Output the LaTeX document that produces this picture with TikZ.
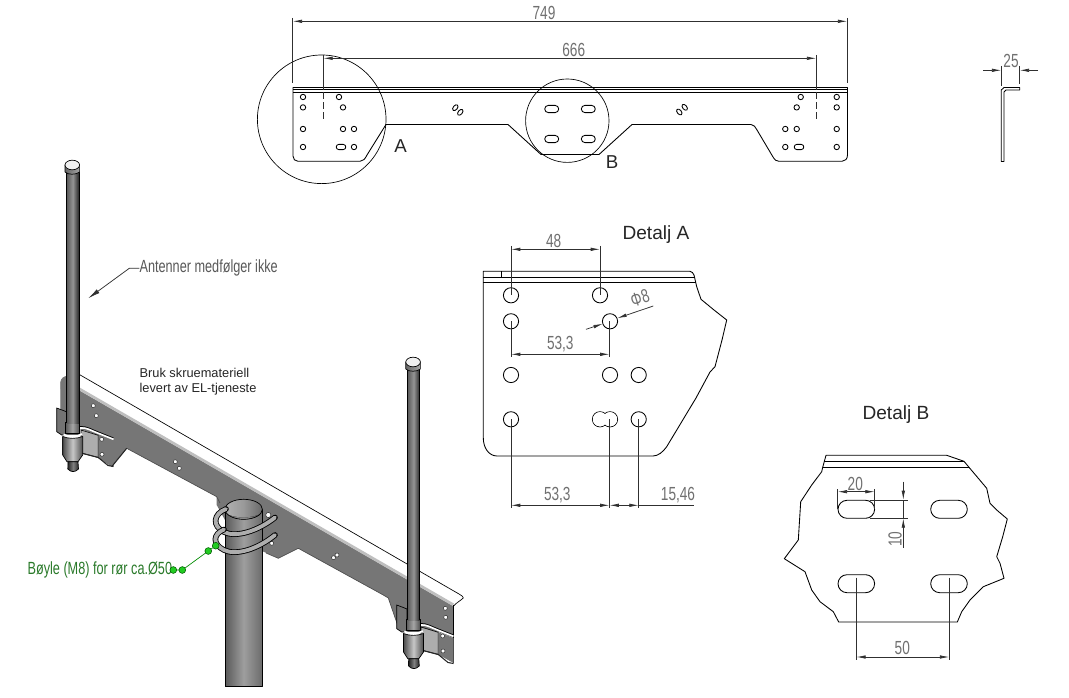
\documentclass[tikz,border=0pt]{standalone}
\usepackage{fontspec}
\setmainfont{Liberation Sans}
\newfontfamily\narrowf[FakeStretch=0.72]{Liberation Sans}
\usetikzlibrary{arrows.meta}
\definecolor{dimc}{HTML}{303030}
\definecolor{dimtxt}{HTML}{707070}
\definecolor{webc}{HTML}{767676}
\definecolor{greent}{HTML}{2A7A2A}
\definecolor{greend}{HTML}{22CC22}
\tikzset{
 partline/.style={draw=black,line width=0.65pt,line join=round},
 thinpart/.style={draw=black,line width=0.5pt,line join=round},
 dimline/.style={draw=dimc,line width=0.55pt},
 dimarrows/.style={dimline,{Latex[length=7pt,width=2.6pt]}-{Latex[length=7pt,width=2.6pt]}},
 dimtext/.style={inner sep=0pt,text=dimtxt,font=\narrowf\fontsize{14.2}{14}\selectfont},
 title/.style={inner sep=0pt,text=black!85,font=\fontsize{14.3}{15}\selectfont},
 beamhole/.style={draw=black!80,fill=white,line width=0.4pt},
 solid3d/.style={draw=black,line width=0.5pt,line join=round},
}
\newcommand{\slothole}[4]{\draw[partline,rounded corners=#4*0.749pt] (#1-#3,#2-#4) rectangle (#1+#3,#2+#4);}
\newcommand{\antennaunit}{%
  \fill[black!60] (65,423) rectangle (80,435);
  \draw[solid3d,left color=black!65,right color=black!70,middle color=black!35] (65.5,422) rectangle (79.5,433);
  \draw[white,line width=1.3pt] (63.5,434.5) .. controls (70,437.5) and (76,437.5) .. (82,434);
  \draw[solid3d,left color=black!70,right color=black!70,middle color=black!22] (62.7,436.5) .. controls (69,439) and (76,439) .. (82.7,436.5) -- (82.7,455) -- (78,461.7) -- (67,461.7) -- (62.7,455) -- cycle;
  \draw[solid3d,left color=black!85,right color=black!85,middle color=black!50] (68,461.7) -- (78,461.7) -- (78.5,469) .. controls (75,472.5) and (71,472.5) .. (67.8,469) -- cycle;
  \fill[left color=black!65,right color=black!85,middle color=black!42] (66.7,172) rectangle (78.9,423.3);
  \draw[black,line width=0.45pt] (66.7,172) -- (66.7,423.3) (78.9,172) -- (78.9,423.3);
  \draw[solid3d,left color=black!60,right color=black!35] (65,165) -- (65,172) .. controls (68,175) and (76,175) .. (79.6,172) -- (79.6,165) -- cycle;
  \draw[solid3d,fill=black!6] (72.3,165) ellipse [x radius=7.3,y radius=4.8];
}
\begin{document}
\begin{tikzpicture}[x=0.749pt,y=-0.749pt]
\useasboundingbox (0,0) rectangle (1069,698);
\fill[white] (0,0) rectangle (1069,698);

%% ---------- top view ----------
\draw[partline] (293,87.5) -- (847.5,87.5) -- (847.5,155) .. controls (847.5,159) and (845,161.3) .. (842,161.3)
 -- (779,161.3) .. controls (776,161.3) and (775,160) .. (773,157) -- (757,130) .. controls (755,127) and (754,124.5) .. (751,124.5)
 -- (632,124.5) -- (599,154.5) -- (541,154.5) -- (508,124.5) -- (386,124.5) -- (367,155) .. controls (365,159) and (363,161.3) .. (360,161.3)
 -- (298,161.3) .. controls (295,161.3) and (293,159) .. (293,156) -- cycle;
\draw[partline] (293,89.8) -- (847.5,89.8) (293,92.3) -- (847.5,92.3);
\foreach \p in {(303,97),(303,107.4),(303,129),(303,147),(339,97),(343,107.4),(343,129),(354,129),(354,147),
 (836.7,97),(836.7,107.4),(836.7,129),(836.7,147),(800.7,97),(796.7,107.4),(796.7,129),(785.3,129),(785.3,147)}
 \draw[partline] \p circle [radius=2.7];
\slothole{341}{147}{4.8}{2.6}
\slothole{799}{147}{4.8}{2.6}
\foreach \a/\b in {551.7/109,588.3/109,551.7/139,588.3/139} {\slothole{\a}{\b}{7}{3.6}}
\foreach \a/\b in {455.3/107.7,460.3/112.3} \draw[partline,rotate around={50:(\a,\b)}] (\a,\b) ellipse [x radius=3.4,y radius=2.1];
\foreach \a/\b in {679.3/112,684.7/107.3} \draw[partline,rotate around={-50:(\a,\b)}] (\a,\b) ellipse [x radius=3.4,y radius=2.1];
\draw[thinpart] (321.7,119.3) circle [radius=64.3];
\draw[thinpart] (567.3,120.7) circle [radius=41.7];
\node[inner sep=0pt,font=\fontsize{14}{14}\selectfont,text=black!85] (labelA) at (400.7,146) {A};
\node[inner sep=0pt,font=\fontsize{14}{14}\selectfont,text=black!85] (labelB) at (612,162) {B};

% 749
\draw[dimline] (292.7,18) -- (292.7,83) (847.3,18) -- (847.3,83);
\draw[dimarrows] (292.7,21.3) -- (847.3,21.3);
\node[dimtext] (d749) at (544,13) {749};
% 666
\draw[dimline] (323.3,55) -- (323.3,90) (816.3,55) -- (816.3,90);
\draw[dimline,dashed,dash pattern=on 5pt off 2.6pt] (323.3,92) -- (323.3,120) (816.3,92) -- (816.3,120);
\draw[dimarrows] (323.3,58.3) -- (816.3,58.3);
\node[dimtext] (d666) at (573.7,50) {666};

%% ---------- side view ----------
\draw[partline] (1001.3,161.5) -- (1001.3,90) -- (1004,87.5) -- (1019.7,87.5) -- (1019.7,90) -- (1006,90) -- (1004,92) -- (1004,161.5) -- cycle;
\draw[dimline] (1001.3,66) -- (1001.3,86) (1019.7,66) -- (1019.7,84);
\draw[dimline,-{Latex[length=7pt,width=2.6pt]}] (983,70.3) -- (1001.3,70.3);
\draw[dimline,-{Latex[length=7pt,width=2.6pt]}] (1038,70.3) -- (1019.7,70.3);
\node[dimtext] (d25) at (1011,61) {25};

%% ---------- Detalj A ----------
\node[title] (titleA) at (656,235) {Detalj A};
\draw[partline] (483.3,271.3) -- (690,271.3) .. controls (692,271.5) and (693,273) .. (694,275) -- (696.7,286.7) -- (701,299.3) -- (714,310) -- (726.7,320) -- (722,340) -- (715,366.7) -- (710,372) -- (696,398) -- (666.7,446.7)
 .. controls (663,452) and (658,456) .. (653,456) -- (497,456) .. controls (489,456) and (483.3,448) .. (483.3,438) -- cycle;
\draw[partline] (483.3,277.3) -- (694,277.3) (483.3,282.3) -- (696,282.3) (501.3,271.3) -- (501.3,277.3);
\foreach \p in {(511,295.3),(600,295.3),(511,321.3),(610,321.3),(511,375),(610,375),(638.7,375),(511,419.3),(638.7,419.3),(600,419.3),(610,419.3)}
 \draw[partline] \p circle [radius=7.6];
\fill[white] (600,419.3) circle [radius=7.2] (610,419.3) circle [radius=7.2];
% 48
\draw[dimline] (511,246) -- (511,295.3) (600,246) -- (600,295.3);
\draw[dimarrows] (511,249.3) -- (600,249.3);
\node[dimtext] (d48) at (553.7,240.7) {48};
% 53,3 upper
\draw[dimline] (511,321.3) -- (511,357) (609.5,321.3) -- (609.5,357);
\draw[dimarrows] (511,354.3) -- (609.5,354.3);
\node[dimtext] (d533a) at (560.3,344) {53,3};
% phi 8
\draw[dimline,-{Latex[length=7pt,width=2.6pt]}] (586,329.3) -- (602.8,323.8);
\draw[dimline,-{Latex[length=7pt,width=2.6pt]}] (653.3,306) -- (617.3,318.2);
\node[dimtext,rotate=18] (dphi) at (640,298.3) {Φ8};
% lower
\draw[dimline] (511,419.3) -- (511,508) (609.5,419.3) -- (609.5,508) (638.7,419.3) -- (638.7,508);
\draw[dimarrows] (511,505.3) -- (609.5,505.3);
\draw[dimline,{Latex[length=7pt,width=2.6pt]}-{Latex[length=7pt,width=2.6pt]}] (609.5,505.3) -- (638.7,505.3);
\draw[dimline] (638.7,505.3) -- (694,505.3);
\node[dimtext] (d533b) at (557.3,495.3) {53,3};
\node[dimtext] (d1546) at (678,495.3) {15,46};

%% ---------- Detalj B ----------
\node[title] (titleB) at (896,415) {Detalj B};
\draw[partline] (826,455.3) -- (946.7,455.3) -- (964,461.3) -- (969,467.3) -- (978.3,478.3) -- (986.7,488.3) -- (990,503.3) -- (996.7,510) -- (1007.3,519) -- (1002.7,536.7) -- (996.7,556.7) -- (1000,563.3) -- (1004,578.3) -- (983.3,586.7) -- (970,600) -- (961.7,611.7) -- (957.3,622) -- (838.7,622) -- (833.3,611.7) -- (820,601.7) -- (811.7,590) -- (805,571.7) -- (784.3,558.7) -- (798.3,540) -- (800.7,501.7) -- (811.7,485) -- (821.7,471.7) -- (822.7,467.3) -- cycle;
\draw[partline] (824,461.3) -- (964,461.3) (822.7,467.3) -- (969,467.3);
\foreach \a/\b in {856.3/509.3,949/509.3,856.3/583.7,949/583.7} {\slothole{\a}{\b}{18.3}{9}}
% 20
\draw[dimline] (837.7,489) -- (837.7,509.3) (874.7,489) -- (874.7,509.3);
\draw[dimarrows] (837.7,491.7) -- (874.7,491.7);
\node[dimtext] (d20) at (855.3,484) {20};
% 10
\draw[dimline] (870,500) -- (907.7,500) (870,518.3) -- (907.7,518.3);
\draw[dimline] (903.3,500) -- (903.3,518.3);
\draw[dimline,-{Latex[length=7pt,width=2.6pt]}] (903.3,481.7) -- (903.3,500);
\draw[dimline,-{Latex[length=7pt,width=2.6pt]}] (903.3,547.7) -- (903.3,518.3);
\node[dimtext,rotate=90] (d10) at (895,539.3) {10};
% 50
\draw[dimline] (856.3,577.7) -- (856.3,659.5) (949.3,577.7) -- (949.3,659.5);
\draw[dimarrows] (856.3,657) -- (949.3,657);
\node[dimtext] (d50) at (902.3,648.3) {50};

%% ---------- 3D view ----------
% web
\fill[webc] (79,390) -- (453.3,604) -- (453.3,638) -- (438.3,632) -- (423,628) -- (399.3,630) -- (388.3,598) -- (383.3,595) -- (298.3,548.3) -- (278.3,558.3) -- (262,551) -- (225,520) -- (216.7,505) -- (216.7,496.7) -- (126.7,448.3) -- (111.7,466.7) -- (98,458) -- (98,435) -- (83,430) -- (61,425) -- (60.7,382) .. controls (61,378) and (65,376) .. (68,376) -- cycle;
\draw[black!70,line width=0.5pt] (126.7,448.3) -- (216.7,496.7) -- (220,503) (298.3,548.3) -- (383.3,595) -- (388.3,598) -- (399.3,630) (298.3,548.3) -- (278.3,558.3) -- (266,553);
\draw[black!55,line width=0.4pt] (60.7,425) -- (60.7,382) .. controls (61,378) and (65,376) .. (68,376);
% flange
\fill[white] (79,374.3) -- (459,594) .. controls (462,596) and (464,597) .. (463.3,598) .. controls (460,601) and (455,604) .. (453.3,606) -- (79,390) -- cycle;
\draw[black!25,line width=2pt] (79,388.7) -- (453.3,604.7);
\draw[black,line width=0.5pt] (79,374.3) -- (459,594) .. controls (462,596) and (464,597) .. (463.3,598) .. controls (460,601) and (456,603) .. (453.6,606);
\draw[black,line width=1.2pt] (453.6,605) -- (453.6,663);
% tabs (left end, right end)
\foreach \dx/\dy in {0/0,340/197} {
\begin{scope}[shift={(\dx,\dy)}]
 \draw[black,line width=0.5pt,fill=black!55] (56.7,408) -- (62,410) -- (67,412) -- (67,435) -- (61.7,435) -- (56.7,431.7) -- cycle;
 \draw[black,line width=0.5pt,fill=black!32] (81,430) -- (98.3,435.3) -- (98.3,457.5) -- (81,453) -- cycle;
 \fill[webc] (98.3,435.3) -- (113.5,441) -- (113.5,466) -- (98.3,457.5) -- cycle;
 \draw[black!85,line width=0.8pt] (81,453) -- (98.3,457.5) -- (108,465.5) -- (113.5,466.5);
 \draw[white,line width=1.2pt] (80,428) .. controls (86,427) and (92,431) .. (98.3,433.3) -- (113.5,439.3);
 \draw[black,line width=0.45pt] (80,426.5) .. controls (86,425.5) and (92,429.5) .. (98.3,431.8) -- (113.5,437.8);
\end{scope}}
\draw[black!85,line width=0.8pt] (126.7,448.3) -- (111.7,466.7);
% holes in web
\foreach \p in {(93.3,405.7),(96.3,415.7),(175.3,461.7),(179.3,468.3),(333.5,557.7),(337,555),(445.3,608.3),(445.7,617.3),(101.7,439.3),(102,454.3),(442.7,636),(443,651),(271.7,543.3)}
 \draw[beamhole] \p circle [radius=2];
\draw[beamhole] (268.3,515) circle [radius=2.6];
% pipe
\draw[solid3d,left color=black!65,right color=black!58,middle color=black!38] (225,509.3) -- (225,686.7) -- (262.3,686.7) -- (262.3,509.3) -- cycle;
\begin{scope}
\clip (243.7,509.3) ellipse [x radius=18.7,y radius=10];
\fill[left color=black!30,right color=black!60,middle color=black!40] (224,499) rectangle (263,520);
\fill[left color=black!60,right color=black!70,middle color=black!38] (225,513) .. controls (233,519) and (254,519) .. (262,513) -- (262,521) -- (225,521) -- cycle;
\end{scope}
\draw[solid3d] (243.7,509.3) ellipse [x radius=18.7,y radius=10];
% U-bolts
\foreach \o/\i in {4.2/black!32} {
 \draw[black,line width=\o pt,line cap=round] (275,517.5) .. controls (258,531) and (236,538) .. (224,532) .. controls (212,526) and (213,514) .. (226,509);
 \draw[\i,line width=2.9pt,line cap=round] (275,517.5) .. controls (258,531) and (236,538) .. (224,532) .. controls (212,526) and (213,514) .. (226,509);
 \draw[black,line width=\o pt,line cap=round] (275,535) .. controls (258,549) and (236,556) .. (224,550) .. controls (212,544) and (213,534) .. (224,529.5);
 \draw[\i,line width=2.9pt,line cap=round] (275,535) .. controls (258,549) and (236,556) .. (224,550) .. controls (212,544) and (213,534) .. (224,529.5);
}
% antennas
\antennaunit
\begin{scope}[shift={(340.8,197)}]
\antennaunit
\end{scope}

%% ---------- labels on 3D view ----------
\node[inner sep=0pt,anchor=west,text=black!85,font=\fontsize{9.6}{9.6}\selectfont] (bruk1) at (139.3,373.3) {Bruk skruemateriell};
\node[inner sep=0pt,anchor=west,text=black!85,font=\fontsize{9.6}{9.6}\selectfont] (bruk2) at (139.3,388.7) {levert av EL-tjeneste};
\node[inner sep=0pt,anchor=west,text=black!65,font=\narrowf\fontsize{13.2}{13}\selectfont] (antlabel) at (139.3,268.3) {Antenner medfølger ikke};
\coordinate (anttip) at (88.3,298.3);
\draw[dimline,-{Latex[length=9pt,width=3.4pt]}] (antlabel.west) -- ++(-10,0) -- (anttip);
\node[inner sep=0pt,anchor=west,text=greent,font=\narrowf\fontsize{13.2}{13}\selectfont] (bolt) at (27.3,570) {Bøyle (M8) for rør ca.Ø50};
\coordinate (g1) at (173.3,570);
\coordinate (g2) at (182.3,570);
\coordinate (g3) at (208.3,551);
\coordinate (g4) at (215.7,545.7);
\draw[green!55!black,line width=0.5pt] (g1) -- (g2) -- (g3) -- (g4);
\foreach \g in {g1,g2,g3,g4} \draw[green!35!black,fill=greend,line width=0.4pt] (\g) circle [radius=3.4];
\end{tikzpicture}
\end{document}
